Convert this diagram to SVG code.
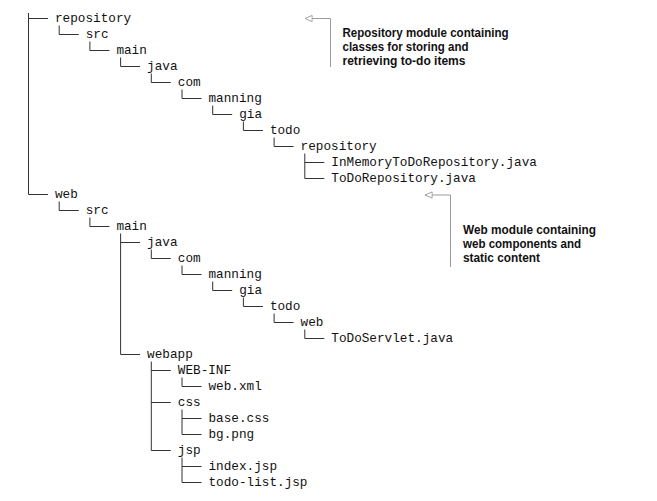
<svg xmlns="http://www.w3.org/2000/svg" width="657" height="501" viewBox="0 0 657 501">
<style>
.t{font-family:"Liberation Mono","Courier New",monospace;font-size:12.7px;fill:#111}
.c{font-family:"Liberation Sans",Arial,sans-serif;font-size:12.5px;font-weight:bold;fill:#111}
.tree{fill:none;stroke:#333;stroke-width:1}
.call{fill:none;stroke:#9a9a9a;stroke-width:1}
</style>
<defs>
<marker id="ah" markerUnits="userSpaceOnUse" markerWidth="10" markerHeight="8" refX="8" refY="3.5" orient="auto-start-reverse" viewBox="-1 -1 10 9">
<path d="M0,0 L8,3.5 L0,7 Z" fill="#fff" stroke="#9a9a9a" stroke-width="1"/>
</marker>
</defs>
<rect width="657" height="501" fill="#fff"/>
<g id="connectors">
<path class="tree" d="M28.5,13 V194.5 M28.5,18.5 H48 M28.5,194.5 H48
M59.2,25.5 V34.5 H78.7
M89.9,41.5 V50.5 H109.4
M120.6,57.5 V66.5 H140.1
M151.3,73.5 V82.5 H170.8
M182,89.5 V98.5 H201.5
M212.7,105.5 V114.5 H232.2
M243.4,121.5 V130.5 H262.9
M274.1,137.5 V146.5 H293.6
M304.8,153.5 V178.5 M304.8,162.5 H324.3 M304.8,178.5 H324.3
M59.2,201.5 V210.5 H78.7
M89.9,217.5 V226.5 H109.4
M120.6,233.5 V354.5 M120.6,242.5 H140.1 M120.6,354.5 H140.1
M151.3,249.5 V258.5 H170.8
M182,265.5 V274.5 H201.5
M212.7,281.5 V290.5 H232.2
M243.4,297.5 V306.5 H262.9
M274.1,313.5 V322.5 H293.6
M304.8,329.5 V338.5 H324.3
M151.3,361.5 V450.5 M151.3,370.5 H170.8 M151.3,402.5 H170.8 M151.3,450.5 H170.8
M182,377.5 V386.5 H201.5
M182,409.5 V434.5 M182,418.5 H201.5 M182,434.5 H201.5
M182,457.5 V482.5 M182,466.5 H201.5 M182,482.5 H201.5"/>
<path class="call" d="M305,18.5 H330.5 V67" marker-start="url(#ah)"/>
<path class="call" d="M425,195 H450.5 V267" marker-start="url(#ah)"/>
</g>
<g id="n-repository"><text class="t" x="55" y="22">repository</text></g>
<g id="n-repo-src"><text class="t" x="85.7" y="38">src</text></g>
<g id="n-repo-main"><text class="t" x="116.4" y="54">main</text></g>
<g id="n-repo-java"><text class="t" x="147.1" y="70">java</text></g>
<g id="n-repo-com"><text class="t" x="177.8" y="86">com</text></g>
<g id="n-repo-manning"><text class="t" x="208.5" y="102">manning</text></g>
<g id="n-repo-gia"><text class="t" x="239.2" y="118">gia</text></g>
<g id="n-repo-todo"><text class="t" x="269.9" y="134">todo</text></g>
<g id="n-repo-repository"><text class="t" x="300.6" y="150">repository</text></g>
<g id="n-inmemory"><text class="t" x="331.3" y="166">InMemoryToDoRepository.java</text></g>
<g id="n-todorepo"><text class="t" x="331.3" y="182">ToDoRepository.java</text></g>
<g id="n-web"><text class="t" x="55" y="198">web</text></g>
<g id="n-web-src"><text class="t" x="85.7" y="214">src</text></g>
<g id="n-web-main"><text class="t" x="116.4" y="230">main</text></g>
<g id="n-web-java"><text class="t" x="147.1" y="246">java</text></g>
<g id="n-web-com"><text class="t" x="177.8" y="262">com</text></g>
<g id="n-web-manning"><text class="t" x="208.5" y="278">manning</text></g>
<g id="n-web-gia"><text class="t" x="239.2" y="294">gia</text></g>
<g id="n-web-todo"><text class="t" x="269.9" y="310">todo</text></g>
<g id="n-web-web"><text class="t" x="300.6" y="326">web</text></g>
<g id="n-servlet"><text class="t" x="331.3" y="342">ToDoServlet.java</text></g>
<g id="n-webapp"><text class="t" x="147.1" y="358">webapp</text></g>
<g id="n-webinf"><text class="t" x="177.8" y="374">WEB-INF</text></g>
<g id="n-webxml"><text class="t" x="208.5" y="390">web.xml</text></g>
<g id="n-css"><text class="t" x="177.8" y="406">css</text></g>
<g id="n-basecss"><text class="t" x="208.5" y="422">base.css</text></g>
<g id="n-bgpng"><text class="t" x="208.5" y="438">bg.png</text></g>
<g id="n-jsp"><text class="t" x="177.8" y="454">jsp</text></g>
<g id="n-indexjsp"><text class="t" x="208.5" y="470">index.jsp</text></g>
<g id="n-todolistjsp"><text class="t" x="208.5" y="486">todo-list.jsp</text></g>
<g id="callout-repository">
<text class="c" x="342.5" y="37" textLength="166" lengthAdjust="spacingAndGlyphs">Repository module containing</text>
<text class="c" x="342.5" y="51" textLength="126" lengthAdjust="spacingAndGlyphs">classes for storing and</text>
<text class="c" x="342.5" y="65" textLength="123" lengthAdjust="spacingAndGlyphs">retrieving to-do items</text>
</g>
<g id="callout-web">
<text class="c" x="463" y="234" textLength="133" lengthAdjust="spacingAndGlyphs">Web module containing</text>
<text class="c" x="463" y="248" textLength="118" lengthAdjust="spacingAndGlyphs">web components and</text>
<text class="c" x="463" y="262" textLength="77" lengthAdjust="spacingAndGlyphs">static content</text>
</g>
</svg>
